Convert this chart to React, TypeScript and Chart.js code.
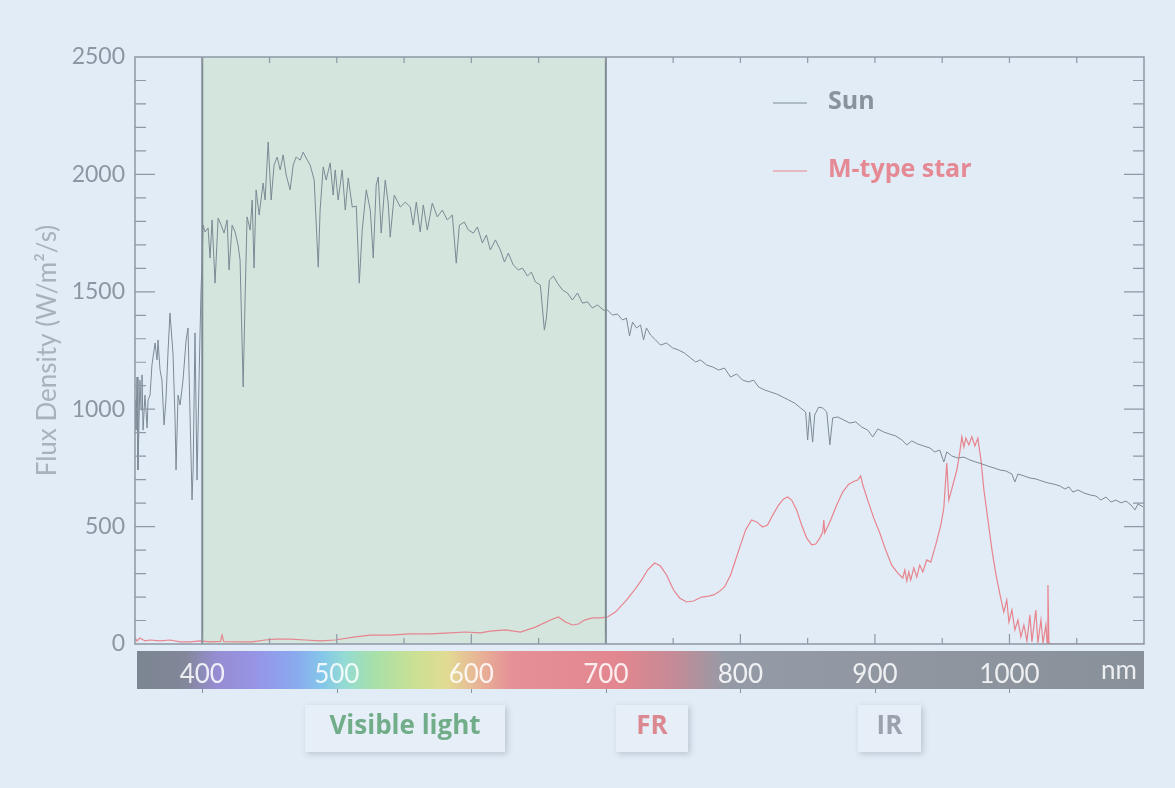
import React, { useEffect, useRef } from 'react';
import { Chart, registerables } from 'chart.js';

Chart.register(...registerables);

// Solar flux, near-UV part (nm, W/m²/s)
const sunUv: [number, number][] = [
  [350, 1039], [350.7, 911], [351.5, 1137], [352.2, 741], [353.7, 1124], [354.5, 997], [355.2, 1146],
  [356, 911], [357.4, 1060], [359, 920], [359.7, 1039], [361.2, 1060], [362.6, 1188], [364.9, 1282],
  [366.4, 1210], [367.1, 1295], [368.6, 1167], [370, 1124], [371.6, 933], [373, 1039], [374.6, 1252],
  [376, 1410], [377.5, 1295], [378.3, 1231], [379.8, 954], [380.5, 741], [382, 1060], [383.5, 1018],
  [385.7, 1124], [388, 1295], [389.4, 1346], [391, 954], [392.4, 613], [393.2, 741], [394.6, 1325],
  [396.1, 698], [397.6, 1124], [398.4, 1337], [399.1, 1508], [399.9, 1635],
];

// Solar flux, visible part
const sunVisible: [number, number][] = [
  [400.6, 1784], [402.1, 1755], [404.3, 1772], [405.8, 1644], [407.3, 1806], [409.5, 1537], [411.8, 1814],
  [414, 1784], [416.2, 1750], [418.5, 1806], [419.9, 1593], [422.2, 1784], [424.4, 1755], [426.6, 1699],
  [428.1, 1635], [430.4, 1095], [431.8, 1465], [433.3, 1819], [435.6, 1763], [437.1, 1891], [438.5, 1601],
  [440, 1934], [442.3, 1827], [445.2, 1963], [446.7, 1891], [449, 2138], [451.2, 1891], [453.4, 2040],
  [455.7, 2074], [457.9, 2019], [460.1, 2083], [462.4, 1997], [465.3, 1934], [467.6, 2040], [469.8, 2074],
  [472.8, 2061], [475, 2095], [477.2, 2070], [480.2, 2040], [483.2, 1976], [486.2, 1605], [487.6, 1848],
  [489.9, 2032], [492.1, 1976], [495.1, 2049], [497.3, 1912], [498.8, 2019], [501, 1891], [504, 2019],
  [506.3, 1848], [508.5, 1985], [511.5, 1861], [514.5, 1865], [516.7, 1537], [518.9, 1763], [521.9, 1934],
  [524.9, 1848], [527.1, 1644], [529.3, 1955], [530.8, 1989], [533, 1750], [536, 1976], [538.2, 1878],
  [539.7, 1733], [542.7, 1912], [547.2, 1861], [550.9, 1882], [554.6, 1861], [556.8, 1784], [559.1, 1882],
  [562, 1755], [564.3, 1870], [567.3, 1763], [571, 1878], [574.7, 1819], [578.4, 1848], [582.1, 1806],
  [585.9, 1827], [588.8, 1622], [591.1, 1784], [594.8, 1797], [597.8, 1763], [601.5, 1750], [604.5, 1776],
  [608.2, 1708], [611.2, 1742], [614.1, 1678], [617.9, 1721], [621.6, 1678], [624.6, 1627], [627.5, 1665],
  [631.2, 1614], [635, 1593], [638, 1601], [641.7, 1567], [644.6, 1584], [647.6, 1542], [651.3, 1529],
  [654.3, 1337], [655.8, 1388], [658, 1550], [661, 1567], [664, 1537], [667.7, 1508], [671.4, 1495],
  [675.1, 1465], [678.9, 1495], [682.6, 1452], [686.3, 1457], [690, 1431], [693.8, 1444], [698.2, 1422],
  [701.2, 1422],
];

// Solar flux, near-infrared part
const sunNearIr: [number, number][] = [
  [704.9, 1401], [708.6, 1405], [712.4, 1380], [715.3, 1388], [717.6, 1312], [719.8, 1371], [722.8, 1346],
  [725.8, 1359], [728, 1295], [730.2, 1346], [733.2, 1316], [736.9, 1295], [740.6, 1273], [745.1, 1282],
  [749.6, 1261], [754, 1252], [758.5, 1239], [763, 1218], [766.7, 1201], [770.4, 1210], [774.9, 1188],
  [779.3, 1180], [783.8, 1167], [788.2, 1175], [792.7, 1137], [797.2, 1150], [801.6, 1124], [806.1, 1116],
  [809.8, 1124], [813.5, 1095], [818, 1082], [822.5, 1073], [826.9, 1065], [831.4, 1052], [835.9, 1039],
  [840.3, 1026], [844.8, 1005], [848.5, 988], [850, 869], [851.5, 988], [853.7, 860], [855.2, 975],
  [858.2, 1009], [861.2, 1005], [864.2, 988], [866.5, 848], [868.6, 963], [872.3, 967], [876.8, 954],
  [881.3, 941], [885.7, 946], [890.2, 924], [894.6, 911], [898.4, 882], [902.1, 916], [906.5, 903],
  [911, 894], [915.5, 886], [920, 869], [923.7, 848], [927.4, 865], [931.8, 852], [936.3, 843],
  [940.8, 835], [944.5, 818], [948.2, 826], [951.2, 775], [953.4, 818], [957.1, 801], [961.6, 792],
  [966.1, 796], [970.5, 784], [975, 775], [979.5, 767], [983.9, 758], [988.4, 750], [992.9, 741],
  [997.3, 737], [1001.8, 724], [1004, 690], [1006.3, 724], [1010.7, 716], [1015.2, 707], [1019.6, 703],
  [1024.1, 694], [1028.6, 686], [1033, 681], [1037.5, 673], [1041.2, 660], [1044.2, 669], [1047.2, 647],
  [1050.9, 656], [1055.4, 643], [1059.8, 635], [1064.3, 630], [1068, 613], [1071.7, 626], [1075.4, 605],
  [1079.2, 613], [1082.9, 601], [1086.6, 609], [1090.3, 592], [1093.3, 571], [1095.5, 596], [1099.3, 584],
];

// M-type star flux, UV + visible part
const starVisible: [number, number][] = [
  [350, 26], [351.5, 13], [353.7, 26], [357.4, 13], [361.2, 17], [368.6, 13], [376, 17], [383.5, 9],
  [391, 9], [398.4, 13], [405.8, 9], [413.5, 11], [414.7, 38], [416, 10], [428.1, 9], [437, 9],
  [446.7, 17], [454.2, 21], [465.3, 21], [476.5, 17], [487.6, 13], [498.8, 17], [513.7, 30], [524.9, 38],
  [539.7, 38], [554.6, 43], [569.5, 43], [584.4, 47], [595.5, 51], [606.7, 47], [614.1, 55], [625.3, 60],
  [636.5, 51], [647.6, 72], [658.8, 102], [664.7, 115], [670, 94], [675.1, 81], [679.6, 85], [684.1, 102],
  [690, 111], [696, 111], [701.2, 115],
];

// M-type star flux, near-infrared part
const starNearIr: [number, number][] = [
  [707.1, 136], [715.3, 187], [721.3, 230], [726.5, 272], [731, 315], [736.2, 345], [740.6, 332],
  [745.1, 294], [750.3, 230], [754.8, 196], [760, 179], [765.2, 183], [771.1, 200], [776.3, 204],
  [780.1, 209], [783.8, 221], [788.2, 243], [792.7, 294], [796.4, 358], [800.1, 422], [803.9, 486],
  [808.3, 528], [812.1, 520], [816.5, 498], [820.2, 507], [824, 549], [828.4, 592], [832.1, 618],
  [835.1, 626], [838.1, 613], [841.8, 571], [845.5, 507], [849.3, 451], [853, 422], [856, 426],
  [859, 451], [861.2, 477], [862, 528], [862.7, 473], [867.1, 528], [871.6, 592], [876, 647],
  [880.5, 681], [885, 694], [887.2, 698], [889.4, 716], [891, 677], [894.6, 613], [899.1, 537],
  [903.6, 473], [908, 400], [912.5, 336], [917, 302], [920.7, 281], [922.2, 315], [923.7, 268],
  [925.2, 307], [926.6, 273], [928.9, 324], [931.1, 285], [933.3, 336], [935.6, 307], [938.5, 358],
  [941.5, 349], [945.2, 422], [949, 507], [951.2, 579], [953.4, 771], [954.9, 613], [957.9, 677],
  [960.9, 741], [963.1, 818], [964.6, 882], [966.1, 839], [967.6, 877], [969.8, 848], [972, 882],
  [974.3, 843], [976.5, 877], [978.8, 784], [981, 656], [984, 528], [987, 400], [990, 294], [993, 209],
  [995.8, 136], [998, 187], [999.6, 94], [1001.8, 145], [1004, 60], [1006.3, 102], [1008.5, 30],
  [1010.7, 81], [1013, 13], [1015.2, 124], [1016.7, 9], [1019.6, 145], [1021.1, 4], [1023.4, 102],
  [1024.9, 4], [1027.1, 81], [1028, 4], [1028.6, 251], [1029.3, 4], [1032.3, 0], [1100, 0],
];

const yTickValues = [0, 500, 1000, 1500, 2000, 2500];
const barLabels = [400, 500, 600, 700, 800, 900, 1000];
const visibleBand = [400, 700];

const FONT = 'Lato, "Open Sans", sans-serif';
const BOLD_FONT = '"Open Sans", Lato, sans-serif';
const BG = '#e2ecf6';
const FRAME = '#8e98a6';
const SUN = '#7d8995';
const STAR = '#e7848e';

const toPoints = (...parts: [number, number][][]) =>
  parts.flat().map(([x, y]) => ({ x, y }));

// Wavelength colour strip under the axis (pixel stop, colour)
const stripStops: [number, string][] = [
  [137, '#7c8591'], [185, '#828799'], [215, '#958dd0'], [255, '#9794e6'], [295, '#8aa9ee'],
  [322, '#84c6ea'], [345, '#94dbd3'], [375, '#a8e0a8'], [415, '#cbe093'], [447, '#e2db93'],
  [480, '#e8b296'], [512, '#e59096'], [620, '#e2868f'], [675, '#c48b96'], [725, '#959ba6'],
  [1143, '#889099'],
];

const decor = {
  id: 'decor',
  beforeDraw(chart: any) {
    const { ctx } = chart;
    const area = chart.chartArea;
    const left = area.left + 2;
    const right = area.right;
    const top = 651;
    const bottom = 689;
    ctx.save();
    const g = ctx.createLinearGradient(left, 0, right, 0);
    stripStops.forEach(([px, c]) => g.addColorStop(Math.min(1, Math.max(0, (px - left) / (right - left))), c));
    ctx.fillStyle = g;
    ctx.fillRect(left, top, right - left, bottom - top);
    // small marks under the strip
    const xs = chart.scales.x;
    ctx.strokeStyle = '#8a939e';
    ctx.lineWidth = 1;
    barLabels.forEach((v) => {
      const px = Math.round(xs.getPixelForValue(v)) + 0.5;
      ctx.beginPath();
      ctx.moveTo(px, bottom);
      ctx.lineTo(px, bottom + 4);
      ctx.stroke();
    });
    ctx.restore();
  },
  beforeDatasetsDraw(chart: any) {
    const { ctx, chartArea: a } = chart;
    const xs = chart.scales.x;
    const x0 = xs.getPixelForValue(visibleBand[0]);
    const x1 = xs.getPixelForValue(visibleBand[1]);
    ctx.save();
    ctx.fillStyle = '#d3e5dc';
    ctx.fillRect(x0, a.top, x1 - x0, a.bottom - a.top);
    ctx.restore();
  },
  afterDatasetsDraw(chart: any) {
    const { ctx, chartArea: a } = chart;
    const xs = chart.scales.x;
    const ys = chart.scales.y;
    ctx.save();
    // visible band borders
    ctx.strokeStyle = '#7f8b93';
    ctx.lineWidth = 2;
    visibleBand.forEach((v) => {
      const px = xs.getPixelForValue(v);
      ctx.beginPath();
      ctx.moveTo(px, a.top);
      ctx.lineTo(px, a.bottom);
      ctx.stroke();
    });
    // frame
    ctx.strokeStyle = FRAME;
    ctx.lineWidth = 1.5;
    ctx.strokeRect(a.left, a.top, a.right - a.left, a.bottom - a.top);
    // inward ticks
    ctx.lineWidth = 1.2;
    for (let v = 100; v < 2500; v += 100) {
      const py = ys.getPixelForValue(v);
      const len = v % 500 === 0 ? 20 : 11;
      ctx.beginPath();
      ctx.moveTo(a.left, py);
      ctx.lineTo(a.left + len, py);
      ctx.moveTo(a.right, py);
      ctx.lineTo(a.right - len, py);
      ctx.stroke();
    }
    for (let v = 400; v < 1100; v += 50) {
      const px = xs.getPixelForValue(v);
      const len = v % 100 === 0 ? 10 : 6;
      ctx.beginPath();
      ctx.moveTo(px, a.bottom);
      ctx.lineTo(px, a.bottom - len);
      ctx.moveTo(px, a.top);
      ctx.lineTo(px, a.top + 6);
      ctx.stroke();
    }
    ctx.restore();
  },
  afterDraw(chart: any) {
    const { ctx } = chart;
    ctx.save();
    // legend
    const entries = [
      { label: 'Sun', color: SUN, text: '#8a929c', y: 102 },
      { label: 'M-type star', color: STAR, text: '#e58a95', y: 170 },
    ];
    ctx.textBaseline = 'middle';
    ctx.textAlign = 'left';
    entries.forEach((e) => {
      ctx.strokeStyle = e.color;
      ctx.lineWidth = 1.2;
      ctx.beginPath();
      ctx.moveTo(773, e.y + 1);
      ctx.lineTo(807, e.y + 1);
      ctx.stroke();
      ctx.fillStyle = e.text;
      ctx.font = `bold 25px ${BOLD_FONT}`;
      ctx.fillText(e.label, 828, e.y);
    });
    // unit at the end of the colour strip
    ctx.fillStyle = 'rgba(255,255,255,0.85)';
    ctx.font = `26px ${FONT}`;
    ctx.textAlign = 'right';
    ctx.fillText('nm', 1137, 671);
    // band name boxes
    const boxes = [
      { text: 'Visible light', x0: 305, x1: 505, color: '#72ad89' },
      { text: 'FR', x0: 616, x1: 688, color: '#dc8891' },
      { text: 'IR', x0: 858, x1: 921, color: '#9aa3ad' },
    ];
    boxes.forEach((b) => {
      ctx.save();
      ctx.shadowColor = 'rgba(70,80,100,0.25)';
      ctx.shadowBlur = 6;
      ctx.shadowOffsetX = 2;
      ctx.shadowOffsetY = 2;
      ctx.fillStyle = '#e6eef7';
      ctx.fillRect(b.x0, 705, b.x1 - b.x0, 47);
      ctx.restore();
      ctx.fillStyle = b.color;
      ctx.font = `bold 26px ${BOLD_FONT}`;
      ctx.textAlign = 'center';
      ctx.textBaseline = 'middle';
      ctx.fillText(b.text, (b.x0 + b.x1) / 2, 727);
    });
    ctx.restore();
  },
};

export default function App() {
  const ref = useRef<HTMLCanvasElement>(null);

  useEffect(() => {
    const canvas = ref.current;
    if (!canvas) return;
    const chart = new Chart(canvas, {
      type: 'line',
      data: {
        datasets: [
          {
            label: 'Sun',
            data: toPoints(sunUv, sunVisible, sunNearIr),
            borderColor: SUN,
            borderWidth: 1,
            pointRadius: 0,
            tension: 0,
          },
          {
            label: 'M-type star',
            data: toPoints(starVisible, starNearIr),
            borderColor: STAR,
            borderWidth: 1.2,
            pointRadius: 0,
            tension: 0,
          },
        ],
      },
      options: {
        animation: false,
        responsive: true,
        maintainAspectRatio: false,
        layout: { padding: { top: 57, right: 31, left: 0, bottom: 0 } },
        plugins: { legend: { display: false }, tooltip: { enabled: false } },
        scales: {
          x: {
            type: 'linear',
            min: 350,
            max: 1100,
            afterFit: (s: any) => { s.height = 144; },
            grid: { display: false, drawTicks: false },
            border: { display: false },
            ticks: {
              stepSize: 50,
              autoSkip: false,
              maxRotation: 0,
              padding: 15,
              color: 'rgba(255,255,255,0.85)',
              font: { family: FONT, size: 26 },
              callback: (v: any) => (barLabels.includes(Number(v)) ? String(v) : ''),
            },
          },
          y: {
            min: 0,
            max: 2500,
            afterFit: (s: any) => { s.width = 135; },
            grid: { display: false, drawTicks: false },
            border: { display: false },
            afterBuildTicks: (s: any) => { s.ticks = yTickValues.map((value) => ({ value })); },
            ticks: {
              padding: 10,
              color: '#8c96a3',
              font: { family: FONT, size: 23 },
              callback: (v: any) => String(v),
            },
            title: {
              display: true,
              text: 'Flux Density (W/m²/s)',
              color: '#a9b1bb',
              font: { family: FONT, size: 26 },
              padding: { top: 32, bottom: 0 },
            },
          },
        },
      },
      plugins: [decor],
    });
    return () => chart.destroy();
  }, []);

  return (
    <div style={{ position: 'fixed', left: 0, top: 0, width: 1175, height: 788, background: BG }}>
      <canvas ref={ref} />
    </div>
  );
}
